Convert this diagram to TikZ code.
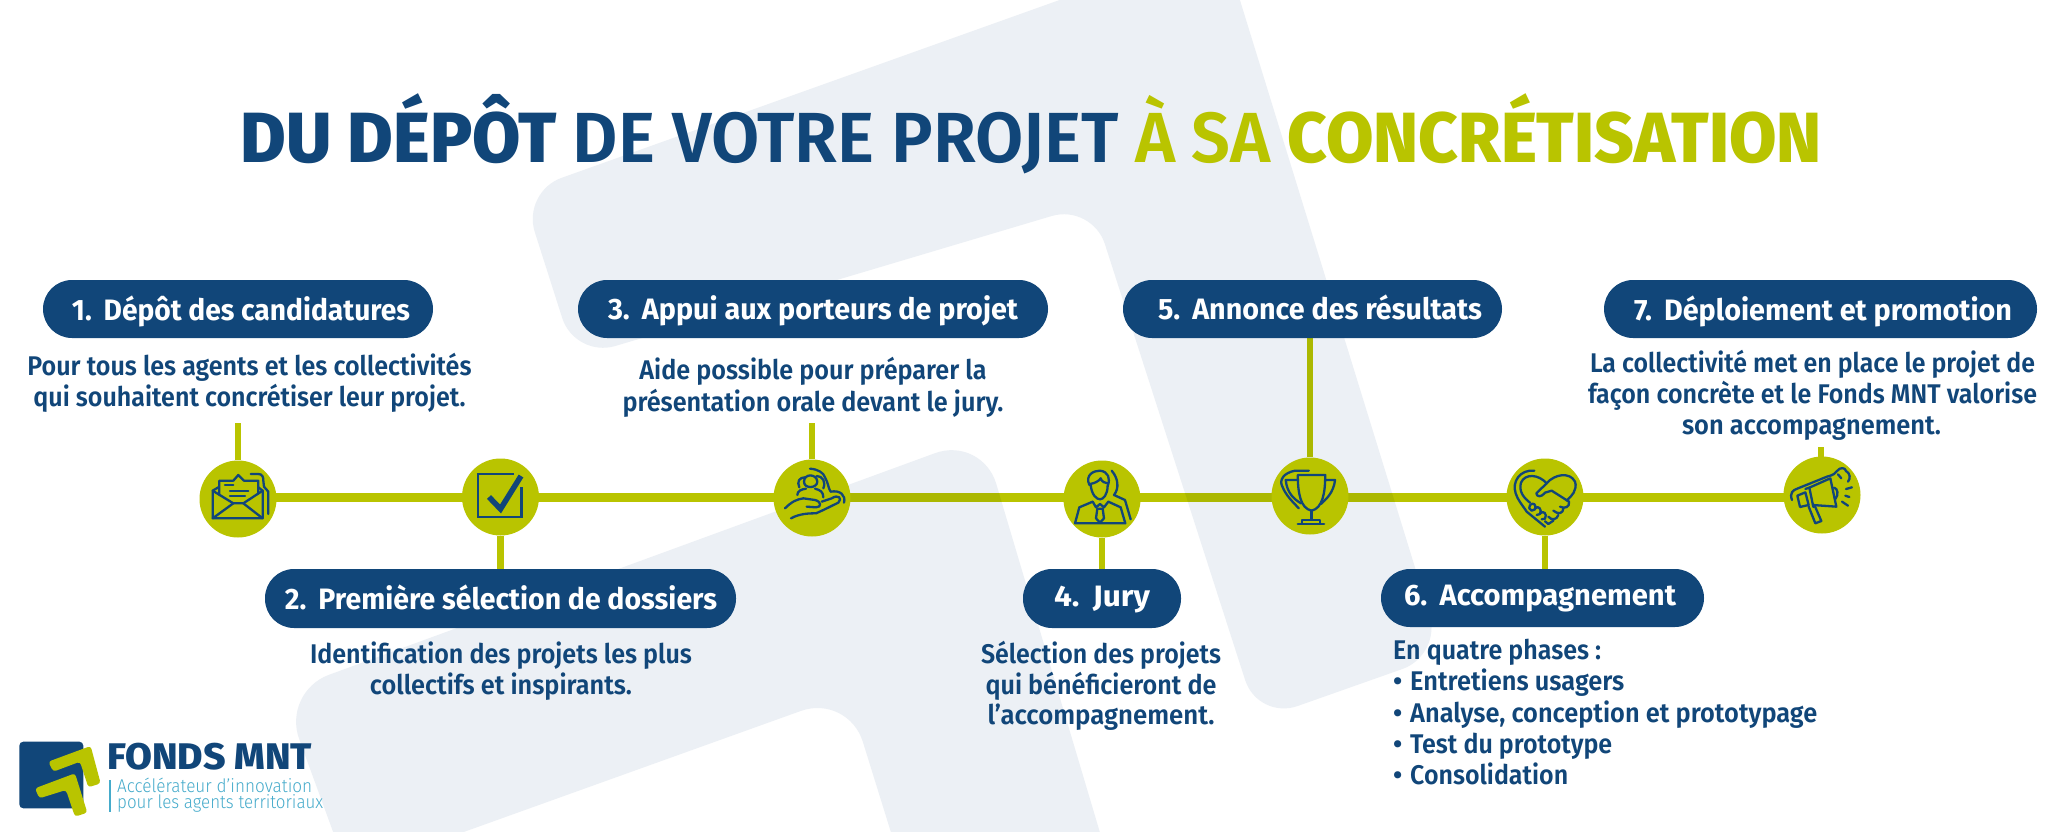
\documentclass[tikz,border=0pt]{standalone}
\usepackage{graphicx}
\usepackage{fontspec}
\setmainfont{Fira Sans}
\newfontfamily\fmed{Fira Sans SemiBold}
\newfontfamily\fsemi{Fira Sans SemiBold}
\newfontfamily\fbd{Fira Sans Bold}
\newfontfamily\fxb{Fira Sans ExtraBold}
\newfontfamily\flight{Fira Sans Light}
\definecolor{navy}{HTML}{114679}
\definecolor{lime}{HTML}{B9C400}
\definecolor{bggray}{HTML}{ECF0F5}
\definecolor{sky}{HTML}{45ABCB}
\pgfdeclarelayer{shapes}
\pgfdeclarelayer{links}
\pgfsetlayers{shapes,links,main}
\tikzset{
  pill/.style={fill=navy,inner sep=0pt,rounded corners=29pt},
  dot/.style={circle,fill=lime,minimum size=77pt,inner sep=0pt},
  pilltext/.style={anchor=base,inner sep=0pt,text=white,font=\fbd\fontsize{29.5}{29.5}\selectfont},
  bodytext/.style={anchor=base,inner sep=0pt,text=navy,font=\fmed\fontsize{27}{27}\selectfont},
  bodyleft/.style={bodytext,anchor=base west},
  bar/.style={draw=lime,line width=9pt,blend mode=multiply},
  stub/.style={draw=lime,line width=6.5pt,blend mode=multiply},
  ico/.style={draw=navy,line width=2.3pt,line cap=round,line join=round},
  lgt/.style={anchor=base west,inner sep=0pt,text=sky,font=\flight\fontsize{18.5}{18.5}\selectfont},
}
\newcommand{\wtxt}[2]{\resizebox{#1pt}{\height}{#2}}
\newcommand{\pillat}[5]{\node[pill,minimum width=#4pt,minimum height=#5pt] (#1) at (#2,#3) {};}
\begin{document}
\begin{tikzpicture}[x=1pt,y=-1pt]
\useasboundingbox (0,0) rectangle (2064,832);
\begin{pgfonlayer}{shapes}
\fill[white] (0,0) rectangle (2064,832);
\begin{scope}
\clip (0,0) rectangle (2064,832);
\fill[bggray,rounded corners=42pt] (522,192) -- (1222,-58) -- (1442,655) -- (1258,720) -- (1092,204) -- (575,358) -- cycle;
\fill[bggray,rounded corners=50pt] (282,692) -- (982,436) -- (1120,900) -- (912,900) -- (848,694) -- (330,880) -- (358,900) -- cycle;
\end{scope}
\end{pgfonlayer}
% title
\node[anchor=base,inner sep=0pt,font=\fontsize{71}{71}\selectfont] (title) at (1031.5,163)
  {\wtxt{878}{\textcolor{navy}{\fxb DU DÉPÔT \fsemi DE VOTRE PROJET}}\hspace{16pt}\wtxt{687}{\textcolor{lime}{\fsemi À SA \fxb CONCRÉTISATION}}};
% dots
\node[dot] (c1) at (238,499) {};
\node[dot] (c2) at (500.5,497) {};
\node[dot] (c3) at (812,498) {};
\node[dot] (c4) at (1102,499) {};
\node[dot] (c5) at (1310,496) {};
\node[dot] (c6) at (1545,497) {};
\node[dot] (c7) at (1822,495) {};
% pills
\pillat{p1}{238}{309}{390}{58}
\pillat{p2}{500.5}{598.5}{471}{59}
\pillat{p3}{813}{309}{470}{58}
\pillat{p4}{1102}{598.5}{158}{59}
\pillat{p5}{1312.5}{309}{379}{58}
\pillat{p6}{1542.5}{598}{323}{58}
\pillat{p7}{1820.5}{309}{433}{58}
\coordinate (bary) at (0,497);
\coordinate (s1) at (238,423);
\coordinate (s3) at (812,423);
\coordinate (s7) at (1821,447);
% connectors
\begin{pgfonlayer}{links}
\path[bar] (c1 |- bary) -- (c2 |- bary);
\path[bar] (c2 |- bary) -- (c3 |- bary);
\path[bar] (c3 |- bary) -- (c4 |- bary);
\path[bar] (c4 |- bary) -- (c5 |- bary);
\path[bar] (c5 |- bary) -- (c6 |- bary);
\path[bar] (c6 |- bary) -- (c7 |- bary);
\path[stub] (s1) -- (c1);
\path[stub] (c2) -- (c2 |- p2.north);
\path[stub] (s3) -- (c3);
\path[stub] (c4) -- (c4 |- p4.north);
\path[stub] (c5 |- p5.south) -- (c5);
\path[stub] (c6) -- (c6 |- p6.north);
\path[stub] (s7) -- (s7 |- c7);
\end{pgfonlayer}
% pill text
\node[pilltext] (t1) at (241,320) {\wtxt{338}{1.\hspace{0.42em}Dépôt des candidatures}};
\node[pilltext] (t2) at (501,609) {\wtxt{432}{2.\hspace{0.42em}Première sélection de dossiers}};
\node[pilltext] (t3) at (813,319) {\wtxt{410}{3.\hspace{0.42em}Appui aux porteurs de projet}};
\node[pilltext] (t4) at (1102,606) {\wtxt{96}{4.\hspace{0.42em}Jury}};
\node[pilltext] (t5) at (1320,319) {\wtxt{324}{5.\hspace{0.42em}Annonce des résultats}};
\node[pilltext] (t6) at (1540,605) {\wtxt{272}{6.\hspace{0.42em}Accompagnement}};
\node[pilltext] (t7) at (1823,320) {\wtxt{378}{7.\hspace{0.42em}Déploiement et promotion}};
% body text
\node[bodytext] (b1a) at (249.5,375) {\wtxt{444}{Pour tous les agents et les collectivités}};
\node[bodytext] (b1b) at (249.5,406) {\wtxt{432}{qui souhaitent concrétiser leur projet.}};
\node[bodytext] (b3a) at (813,379) {\wtxt{347}{Aide possible pour préparer la}};
\node[bodytext] (b3b) at (813,411) {\wtxt{381}{présentation orale devant le jury.}};
\node[bodytext] (b2a) at (501,663) {\wtxt{382}{Identification des projets les plus}};
\node[bodytext] (b2b) at (501,694) {\wtxt{262}{collectifs et inspirants.}};
\node[bodytext] (b4a) at (1101,663) {\wtxt{240}{Sélection des projets}};
\node[bodytext] (b4b) at (1101,694) {\wtxt{231}{qui bénéficieront de}};
\node[bodytext] (b4c) at (1101,724) {\wtxt{227}{l’accompagnement.}};
\node[bodytext] (b7a) at (1812.5,372) {\wtxt{445}{La collectivité met en place le projet de}};
\node[bodytext] (b7b) at (1812.5,403) {\wtxt{449}{façon concrète et le Fonds MNT valorise}};
\node[bodytext] (b7c) at (1811.5,434) {\wtxt{259}{son accompagnement.}};
\node[bodyleft] (b6a) at (1393,659) {\wtxt{208}{En quatre phases :}};
\node[bodyleft] (b6b) at (1393,690) {•};
\node[bodyleft] (b6c) at (1410,690) {\wtxt{214}{Entretiens usagers}};
\node[bodyleft] (b6d) at (1393,722) {•};
\node[bodyleft] (b6e) at (1410,722) {\wtxt{407}{Analyse, conception et prototypage}};
\node[bodyleft] (b6f) at (1393,753) {•};
\node[bodyleft] (b6g) at (1410,753) {\wtxt{202}{Test du prototype}};
\node[bodyleft] (b6h) at (1393,784) {•};
\node[bodyleft] (b6i) at (1410,784) {\wtxt{158}{Consolidation}};
% icon 1 envelope
\begin{scope}[shift={(190,450)},x=0.3333pt,y=-0.3333pt]
\draw[ico] (85,112) -- (68,122) -- (68,205) -- (218,205) -- (218,122) -- (205,112);
\draw[ico] (68,122) -- (130,160) -- (160,160) -- (218,122);
\draw[ico] (68,205) -- (130,160) (160,160) -- (218,205);
\draw[ico] (88,135) -- (88,92) -- (130,92) -- (145,75) -- (162,92) -- (205,92) -- (205,130);
\draw[ico] (105,105) -- (130,105) (120,122) -- (175,122) (120,138) -- (165,138);
\draw[ico] (182,72) -- (205,72) .. controls (218,72) and (220,82) .. (220,92) -- (222,110) -- (235,125) -- (235,192);
\end{scope}
% icon 2 check
\draw[navy,line width=2.3pt] (514,474) -- (478,474) -- (478,517) -- (521.5,517) -- (521.5,487);
\draw[navy,line width=5.5pt] (489,497) -- (500.5,509) -- (521,476);
% icon 3 hand
\begin{scope}[shift={(760,450)},x=0.3333pt,y=-0.3333pt]
\draw[ico] (75,175) .. controls (95,155) and (110,148) .. (130,145) -- (165,150) .. controls (185,155) and (185,172) .. (168,172) -- (140,170);
\draw[ico] (93,205) .. controls (120,190) and (150,190) .. (168,190) -- (190,180) -- (235,158) .. controls (248,145) and (235,132) .. (215,145) -- (185,155);
\draw[ico] (132,95) .. controls (132,70) and (170,70) .. (172,95) .. controls (172,115) and (132,118) .. (132,95);
\draw[ico] (112,135) .. controls (112,122) and (125,118) .. (138,116) (165,116) .. controls (180,120) and (190,125) .. (190,142);
\draw[ico] (135,82) .. controls (118,82) and (110,95) .. (118,112) (170,78) .. controls (188,78) and (198,95) .. (190,115);
\draw[ico] (150,56) .. controls (175,58) and (190,68) .. (195,82) .. controls (205,100) and (205,115) .. (212,125) .. controls (240,120) and (258,135) .. (252,158);
\end{scope}
% icon 4 person
\begin{scope}[shift={(1050,450)},x=0.3333pt,y=-0.3333pt]
\draw[ico] (118,105) .. controls (105,75) and (130,62) .. (150,62) .. controls (175,65) and (182,85) .. (173,108);
\draw[ico] (120,102) .. controls (135,100) and (148,92) .. (152,85) .. controls (155,95) and (165,100) .. (173,100);
\draw[ico] (122,105) .. controls (125,135) and (140,148) .. (150,148) .. controls (160,148) and (172,135) .. (173,108);
\draw[ico] (128,155) -- (88,172) -- (75,220) -- (226,220) -- (212,172) -- (175,155);
\draw[ico] (128,155) -- (138,172) -- (150,162) -- (162,172) -- (175,155);
\draw[ico] (142,176) -- (158,176) -- (162,205) -- (150,218) -- (138,205) -- cycle;
\draw[ico] (185,62) .. controls (205,85) and (208,115) .. (192,135) -- (225,150) -- (242,208);
\end{scope}
% icon 5 trophy
\begin{scope}[shift={(1040,440)},x=0.5485pt,y=-0.3333pt]
\draw[ico] (470,105) -- (520,105) .. controls (520,160) and (515,205) .. (495,212) .. controls (475,205) and (470,160) .. (470,105);
\draw[ico] (470,120) -- (448,120) .. controls (450,160) and (465,180) .. (476,190);
\draw[ico] (520,120) -- (538,120) .. controls (535,160) and (520,180) .. (512,192);
\draw[ico] (495,212) -- (495,238);
\draw[ico] (478,240) -- (510,240) -- (510,252) -- (478,252) -- cycle;
\draw[ico] (470,252) -- (518,252);
\draw[ico] (490,92) -- (465,92) .. controls (445,98) and (435,120) .. (442,140) .. controls (448,165) and (460,185) .. (472,205);
\end{scope}
% icon 6 handshake
\begin{scope}[shift={(1495,450)},x=0.3333pt,y=-0.3333pt]
\draw[ico] (118,62) .. controls (75,58) and (50,95) .. (62,130) .. controls (68,150) and (82,165) .. (95,185) -- (150,230);
\draw[ico] (155,100) .. controls (130,72) and (90,70) .. (78,98) .. controls (70,125) and (88,145) .. (105,158);
\draw[ico] (155,100) .. controls (178,72) and (225,65) .. (240,95) .. controls (248,120) and (230,138) .. (215,152);
\draw[ico] (155,100) -- (124,130) .. controls (125,142) and (140,142) .. (150,128) -- (170,122) -- (222,155) .. controls (225,170) and (210,178) .. (195,170);
\draw[ico] (205,175) .. controls (205,190) and (190,195) .. (175,182);
\draw[ico] (190,195) .. controls (185,210) and (170,212) .. (160,200);
\draw[ico] (175,212) -- (160,222) -- (150,214);
\draw[ico] (105,165) .. controls (115,155) and (125,165) .. (120,178) -- (110,182) .. controls (102,178) and (100,172) .. (105,165);
\draw[ico] (120,175) .. controls (130,165) and (142,178) .. (135,192) -- (125,195);
\draw[ico] (135,190) .. controls (145,180) and (158,192) .. (150,206) -- (140,208);
\end{scope}
% icon 7 megaphone
\begin{scope}[shift={(1772,445)},x=0.3333pt,y=-0.3333pt]
\draw[ico] (112,128) -- (175,100) -- (193,185) -- (122,180);
\draw[ico] (100,132) -- (112,128) -- (124,186);
\draw[ico] (76,152) -- (100,142) -- (110,180) -- (84,186) -- cycle;
\draw[ico] (110,185) -- (130,235) -- (148,228) -- (128,182);
\draw[ico] (186,128) .. controls (198,130) and (200,150) .. (190,162);
\draw[ico] (60,165) .. controls (52,145) and (62,135) .. (78,130) -- (165,95) .. controls (185,90) and (190,85) .. (195,78) .. controls (205,65) and (220,68) .. (222,78) .. controls (235,85) and (236,100) .. (228,110);
\draw[ico] (198,88) -- (208,100);
\draw[ico] (222,132) -- (240,127) (220,152) -- (232,156) (210,170) -- (228,182);
\end{scope}
% logo
\begin{scope}[shift={(0,720)},x=0.3333pt,y=-0.3333pt]
\fill[navy,rounded corners=4pt] (58,65) rectangle (250,265);
\fill[lime,rounded corners=3pt] (145,125) -- (272,78) -- (302,190) -- (265,202) -- (240,125) -- (160,155) -- cycle;
\fill[lime,rounded corners=3pt] (105,205) -- (225,160) -- (262,278) -- (225,290) -- (198,210) -- (118,235) -- cycle;
\end{scope}
\node[anchor=base west,inner sep=0pt,text=navy,font=\fxb\fontsize{37}{37}\selectfont] (lg1) at (107,769) {\wtxt{205}{FONDS MNT}};
\node[lgt] (lg2) at (117,792) {\wtxt{195}{Accélérateur d’innovation}};
\node[lgt] (lg3) at (117,808) {\wtxt{206}{pour les agents territoriaux}};
\draw[sky,line width=1.3pt] (110,780) -- (110,812);
\end{tikzpicture}
\end{document}
